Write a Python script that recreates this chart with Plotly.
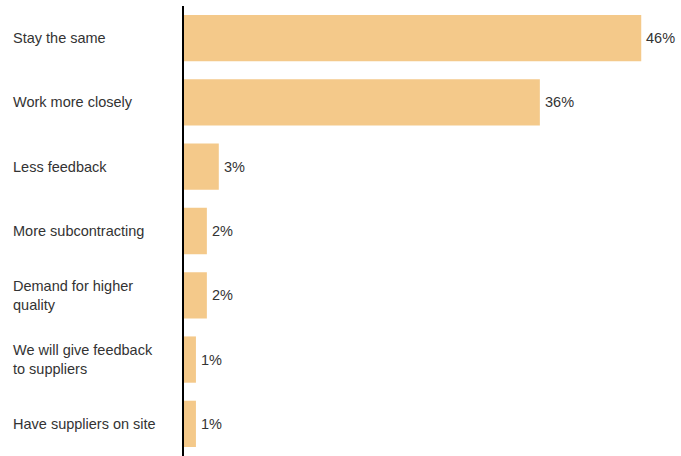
import plotly.graph_objects as go

categories = [
    "Stay the same",
    "Work more closely",
    "Less feedback",
    "More subcontracting",
    "Demand for higher<br>quality",
    "We will give feedback<br>to suppliers",
    "Have suppliers on site",
]
values = [46, 35.8, 3.5, 2.3, 2.3, 1.2, 1.2]
value_labels = ["46%", "36%", "3%", "2%", "2%", "1%", "1%"]

W, H = 681, 456
L, R, T, B = 184, 0, 6, 0
FONT = "Liberation Sans, Arial, sans-serif"

fig = go.Figure()
fig.add_trace(go.Bar(
    y=list(range(len(categories))),
    x=values,
    orientation="h",
    marker=dict(color="#F4C98A", line=dict(width=0)),
    width=0.72,
    hoverinfo="skip",
))

for i, c in enumerate(categories):
    fig.add_annotation(
        x=(11 - L) / (W - L - R), xref="paper",
        y=i, yref="y",
        text=c, showarrow=False,
        xanchor="left", yanchor="middle", align="left",
        font=dict(family=FONT, size=14.5, color="#333333"),
    )

for i, (v, t) in enumerate(zip(values, value_labels)):
    fig.add_annotation(
        x=v, xref="x", y=i, yref="y",
        text=t, showarrow=False,
        xanchor="left", yanchor="middle", xshift=3,
        font=dict(family=FONT, size=14.5, color="#333333"),
    )

fig.update_layout(
    width=W, height=H,
    margin=dict(l=L, r=R, t=T, b=B, pad=0),
    paper_bgcolor="white", plot_bgcolor="white",
    showlegend=False,
    xaxis=dict(range=[0, 50], visible=False, fixedrange=True),
    yaxis=dict(
        range=[len(categories) - 0.5, -0.5],
        showticklabels=False, showgrid=False, zeroline=False,
        showline=True, linecolor="black", linewidth=2,
        ticks="", fixedrange=True,
    ),
)

fig.write_html(
    "out.html",
    config={"displayModeBar": False},
    post_script="document.body.style.margin='0';document.body.style.padding='0';",
)
